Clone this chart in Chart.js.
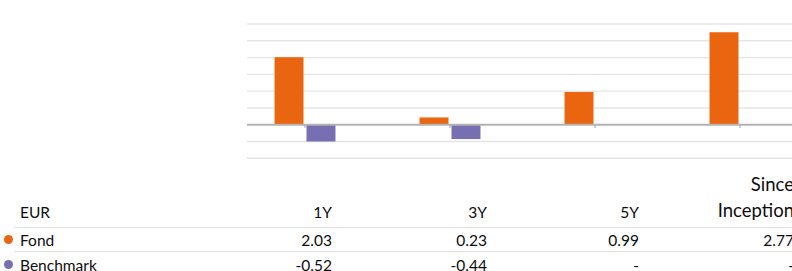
<!DOCTYPE html>
<html>
<head>
<meta charset="utf-8">
<script src="https://cdn.jsdelivr.net/npm/chart.js@4.4.1/dist/chart.umd.min.js"></script>
<style>
  html, body { margin: 0; padding: 0; background: #fff; }
  body { width: 792px; height: 271px; overflow: hidden; position: relative; font-family: Lato, "Open Sans", sans-serif; color: #0d0d0d; }
  #wrap { position: absolute; left: 0; top: 0; width: 840px; height: 170px; }
  .t { position: absolute; font-size: 15.5px; line-height: 18px; white-space: nowrap; }
  .big { font-size: 18.5px; }
  .r { text-align: right; }
  .hl { position: absolute; left: 14px; width: 800px; height: 0; border-top: 1.5px solid #e0e0e0; }
  .dot { position: absolute; width: 9px; height: 9px; border-radius: 50%; }
</style>
</head>
<body>
<div id="wrap"><canvas id="c"></canvas></div>
<div id="table"></div>
<script>
// ---- data ----
const categories = ['1Y', '3Y', '5Y', 'Since Inception'];
const headerLines = [['1Y'], ['3Y'], ['5Y'], ['Since', 'Inception']];
const currency = 'EUR';
const seriesNames = ['Fond', 'Benchmark'];
const fondValues = [2.03, 0.23, 0.99, 2.77];
const benchmarkValues = [-0.52, -0.44, null, null];
const yMin = -1, yMax = 3, yStep = 0.5;

// ---- style ----
const colors = ['#E9650F', '#7670B3'];
const colRight = [332, 487, 639, 794];

const gridPlugin = {
  id: 'customGrid',
  beforeDatasetsDraw(chart) {
    const y = chart.scales.y, ctx = chart.ctx;
    ctx.save();
    ctx.strokeStyle = '#e4e4e4';
    ctx.lineWidth = 1.4;
    for (let v = yMin; v <= yMax + 1e-9; v += yStep) {
      if (Math.abs(v) < 1e-9) continue;
      const py = y.getPixelForValue(v);
      ctx.beginPath(); ctx.moveTo(247, py); ctx.lineTo(chart.width, py); ctx.stroke();
    }
    ctx.restore();
  },
  afterDatasetsDraw(chart) {
    const y = chart.scales.y, x = chart.scales.x, ctx = chart.ctx;
    const py = y.getPixelForValue(0);
    ctx.save();
    ctx.strokeStyle = '#b3b3b3';
    ctx.lineWidth = 2;
    ctx.beginPath(); ctx.moveTo(247, py); ctx.lineTo(chart.width, py); ctx.stroke();
    ctx.lineWidth = 1.5;
    categories.forEach((c, i) => {
      const px = x.getPixelForValue(i);
      ctx.beginPath(); ctx.moveTo(px, py); ctx.lineTo(px, py + 3); ctx.stroke();
    });
    ctx.restore();
  }
};

new Chart(document.getElementById('c'), {
  type: 'bar',
  data: {
    labels: categories,
    datasets: [
      { label: seriesNames[0], data: fondValues, backgroundColor: colors[0], borderColor: 'rgba(255,220,200,0.7)', borderWidth: 0.6 },
      { label: seriesNames[1], data: benchmarkValues, backgroundColor: colors[1], borderColor: 'rgba(220,218,240,0.7)', borderWidth: 0.6 }
    ]
  },
  options: {
    responsive: true,
    maintainAspectRatio: false,
    animation: false,
    events: [],
    layout: { padding: { left: 232.5, right: 27.5, top: 24, bottom: 11.7 } },
    datasets: { bar: { categoryPercentage: 0.441, barPercentage: 0.94 } },
    plugins: { legend: { display: false }, tooltip: { enabled: false } },
    scales: {
      x: { display: false },
      y: { display: false, min: yMin, max: yMax }
    }
  },
  plugins: [gridPlugin]
});

// ---- table ----
const table = document.getElementById('table');
function addText(txt, css, cls) {
  const d = document.createElement('div');
  d.className = 't' + (cls ? ' ' + cls : '');
  d.textContent = txt;
  Object.assign(d.style, css);
  table.appendChild(d);
}
const rowBase = [217, 245, 270]; // baselines
addText(currency, { left: '20px', top: (rowBase[0] - 14) + 'px' });
headerLines.forEach((lines, i) => {
  const multi = lines.length > 1;
  lines.forEach((ln, k) => {
    const base = rowBase[0] - (lines.length - 1 - k) * 26;
    const off = multi ? 16.5 : 14;
    addText(ln, { right: (792 - colRight[i]) + 'px', top: (base - off) + 'px' }, multi ? 'r big' : 'r');
  });
});
[fondValues, benchmarkValues].forEach((vals, s) => {
  const base = rowBase[s + 1];
  addText(seriesNames[s], { left: '20px', top: (base - 14) + 'px' });
  const dot = document.createElement('div');
  dot.className = 'dot';
  dot.style.left = '4px';
  dot.style.top = (base - 10.5) + 'px';
  dot.style.background = colors[s];
  table.appendChild(dot);
  vals.forEach((v, i) => {
    addText(v === null ? '-' : v.toFixed(2), { right: (792 - colRight[i]) + 'px', top: (base - 14) + 'px' }, 'r');
  });
});
[226.5, 251].forEach(y => {
  const l = document.createElement('div');
  l.className = 'hl';
  l.style.top = y + 'px';
  table.appendChild(l);
});
</script>
</body>
</html>
